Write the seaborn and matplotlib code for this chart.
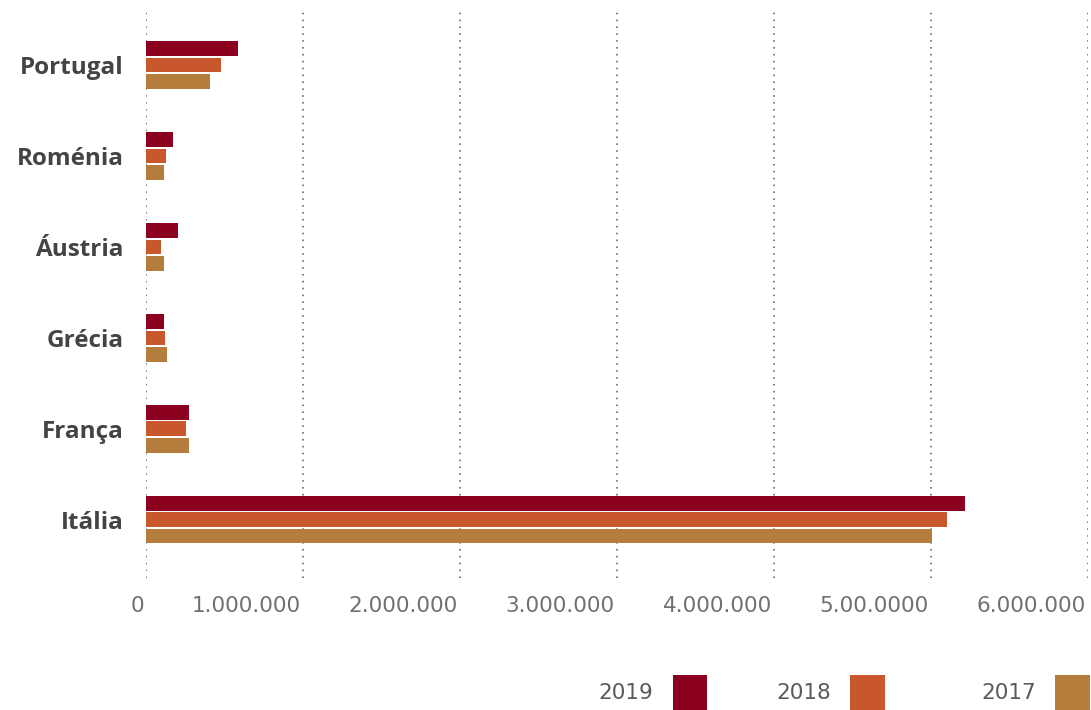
import matplotlib
matplotlib.use("Agg")
import matplotlib.pyplot as plt
import seaborn as sns
import pandas as pd
from matplotlib.transforms import ScaledTranslation

countries = ["Portugal", "Roménia", "Áustria", "Grécia", "França", "Itália"]
years = ["2019", "2018", "2017"]
values_2019 = [586000, 172000, 200000, 115000, 275000, 5220000]
values_2018 = [475000, 128000, 95000, 122000, 255000, 5105000]
values_2017 = [405000, 115000, 115000, 134000, 275000, 5006000]
tick_values = [0, 1000000, 2000000, 3000000, 4000000, 5000000, 6000000]
tick_labels = ["0", "1.000.000", "2.000.000", "3.000.000", "4.000.000", "5.00.0000", "6.000.000"]
palette = {"2019": "#8b001e", "2018": "#c8572e", "2017": "#b47d3b"}
legend_anchor_x = {"2019": 0.648, "2018": 0.811, "2017": 0.999}

df = pd.DataFrame({
    "country": countries * 3,
    "year": ["2019"] * 6 + ["2018"] * 6 + ["2017"] * 6,
    "value": values_2019 + values_2018 + values_2017,
})

sns.set_theme(style="white")
plt.rcParams["font.family"] = ["Open Sans", "DejaVu Sans"]

fig = plt.figure(figsize=(10.91, 7.10), dpi=100)
ax = fig.add_axes([0.134, 0.186, 0.863, 0.803])

sns.barplot(data=df, y="country", x="value", hue="year", order=countries,
            hue_order=years, palette=palette, orient="h", width=0.54, gap=0.1,
            linewidth=0, saturation=1, errorbar=None, ax=ax, legend=False)

ax.set_xlim(0, 6000000)
ax.set_ylim(5.64, -0.63)
ax.set_xticks(tick_values)
ax.set_xticklabels(tick_labels)
ax.set_xlabel("")
ax.set_ylabel("")
for s in ax.spines.values():
    s.set_visible(False)
ax.grid(False)
for v in tick_values:
    ax.axvline(v, color="#555555", linestyle=(0, (1, 3.5)), linewidth=1.1, zorder=0)

ax.tick_params(axis="x", length=0, pad=13, labelcolor="#707070")
ax.tick_params(axis="y", length=0, pad=16, labelsize=17.5, labelcolor="#444444")
shift = ScaledTranslation(-1.5 / 72, 0, fig.dpi_scale_trans)
for lbl in ax.get_xticklabels():
    lbl.set_horizontalalignment("right")
    lbl.set_family(["DejaVu Sans"])
    lbl.set_fontsize(15.5)
    lbl.set_transform(lbl.get_transform() + shift)
for lbl in ax.get_yticklabels():
    lbl.set_fontweight("bold")

# one legend entry per year, label first and colour square after it
for y in years:
    handle = plt.Rectangle((0, 0), 1, 1, facecolor=palette[y], edgecolor="none")
    leg = fig.legend([handle], [y], loc="lower right",
                     bbox_to_anchor=(legend_anchor_x[y], 0.0),
                     markerfirst=False, frameon=False,
                     prop={"family": "DejaVu Sans", "size": 15.5},
                     handlelength=1.6, handleheight=2.1, handletextpad=0.9,
                     borderaxespad=0, borderpad=0)
    for t in leg.get_texts():
        t.set_color("#5a5a5a")

fig.savefig("out.png", dpi=100)
